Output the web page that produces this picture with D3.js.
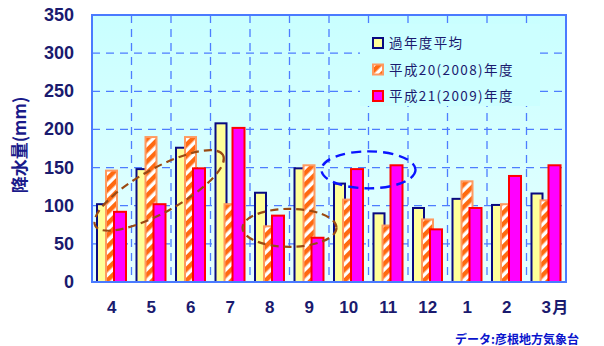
<!DOCTYPE html>
<meta charset="utf-8">
<style>
  body { margin: 0; background: #fff; }
  svg { display: block; }
  text { font-family: "Liberation Sans", Arial, sans-serif; }
  .jp { font-family: "Noto Sans CJK JP", sans-serif; }
</style>
<body>
<svg width="604" height="346"></svg>
<script src="https://d3js.org/d3.v7.min.js"></script>
<script>

var months = ["4", "5", "6", "7", "8", "9", "10", "11", "12", "1", "2", "3"];
var average = [102, 148, 176, 208, 117, 149, 129, 90, 97, 109, 101, 116];
var fy2008 = [146, 190, 190, 102, 73, 153, 108, 74, 82, 132, 102, 107];
var fy2009 = [92, 102, 149, 202, 87, 58, 148, 153, 69, 97, 139, 153];
var seriesNames = ["過年度平均", "平成20(2008)年度", "平成21(2009)年度"];
var yTicks = [0, 50, 100, 150, 200, 250, 300, 350];

var svg = d3.select("svg");
var plotLeft = 92, plotRight = 566, plotTop = 15, plotBottom = 282;

var x = d3.scaleBand().domain(months).range([plotLeft, plotRight]);
var y = d3.scaleLinear().domain([0, 350]).range([plotBottom, plotTop]);

var defs = svg.append("defs");
var grad = defs.append("linearGradient").attr("id", "bg")
    .attr("x1", 0).attr("y1", 0).attr("x2", 0).attr("y2", 1);
grad.append("stop").attr("offset", "0%").attr("stop-color", "#c9ffff");
grad.append("stop").attr("offset", "100%").attr("stop-color", "#e6ffff");

var pat = defs.append("pattern").attr("id", "stripe")
    .attr("patternUnits", "userSpaceOnUse")
    .attr("width", 8).attr("height", 8)
    .attr("patternTransform", "rotate(45)");
pat.append("rect").attr("width", 8).attr("height", 8).attr("fill", "#ffffff");
pat.append("rect").attr("width", 4.5).attr("height", 8).attr("fill", "#ff6a10");

// plot background
svg.append("rect")
    .attr("x", plotLeft).attr("y", plotTop)
    .attr("width", plotRight - plotLeft).attr("height", plotBottom - plotTop)
    .attr("fill", "url(#bg)");

// grid
var grid = svg.append("g")
    .attr("stroke", "#4d7dff").attr("stroke-width", 1.3)
    .attr("stroke-dasharray", "8,6");
grid.selectAll(".h").data(yTicks.filter(d => d > 0 && d < 350)).enter()
  .append("line")
    .attr("x1", plotLeft).attr("x2", plotRight)
    .attr("y1", d => y(d)).attr("y2", d => y(d));
grid.selectAll(".v").data(months.slice(1)).enter()
  .append("line")
    .attr("x1", d => x(d)).attr("x2", d => x(d))
    .attr("y1", plotTop).attr("y2", plotBottom);

// legend box hides the grid behind it
svg.append("rect")
    .attr("x", 360).attr("y", 24).attr("width", 180).attr("height", 82)
    .attr("fill", "#ccffff");

// bars
var series = [
  { values: average, off: 5, w: 11, fill: "#ffff99", stroke: "#0a0a80" },
  { values: fy2008, off: 14, w: 11, fill: "url(#stripe)", stroke: "#ff9a60" },
  { values: fy2009, off: 22, w: 12, fill: "#ff00ff", stroke: "#ff0000" }
];
series.forEach(function(s) {
  svg.append("g").selectAll("rect")
    .data(s.values).enter()
    .append("rect")
      .attr("x", (d, i) => x(months[i]) + s.off)
      .attr("y", d => y(d))
      .attr("width", s.w)
      .attr("height", d => y(0) - y(d))
      .attr("fill", s.fill)
      .attr("stroke", s.stroke)
      .attr("stroke-width", 2);
});

// frame
svg.append("rect")
    .attr("x", plotLeft).attr("y", plotTop)
    .attr("width", plotRight - plotLeft).attr("height", plotBottom - plotTop)
    .attr("fill", "none").attr("stroke", "#4a7aff").attr("stroke-width", 2);

// annotation ellipses
var bw = x.bandwidth();
var e1x = x("5") + bw * 0.7, e1y = y(120);
svg.append("ellipse")
    .attr("cx", e1x).attr("cy", e1y)
    .attr("rx", 73).attr("ry", 22)
    .attr("transform", "rotate(-29," + e1x + "," + e1y + ")")
    .attr("fill", "none").attr("stroke", "#9a4a12").attr("stroke-width", 2.2)
    .attr("stroke-dasharray", "8,5");
svg.append("ellipse")
    .attr("cx", x("9")).attr("cy", y(71))
    .attr("rx", 47).attr("ry", 19)
    .attr("fill", "none").attr("stroke", "#9a4a12").attr("stroke-width", 2.2)
    .attr("stroke-dasharray", "8,5");
svg.append("ellipse")
    .attr("cx", x("11")).attr("cy", y(147))
    .attr("rx", 47).attr("ry", 18.5)
    .attr("fill", "none").attr("stroke", "#0a14ff").attr("stroke-width", 2.4)
    .attr("stroke-dasharray", "10,6");

// legend
var legend = svg.append("g");
seriesNames.forEach(function(name, i) {
  var s = series[i];
  var ly = 43 + i * 26.5;
  legend.append("rect")
      .attr("x", 373).attr("y", ly - 5).attr("width", 10).attr("height", 10)
      .attr("fill", s.fill).attr("stroke", s.stroke).attr("stroke-width", 2);
  legend.append("text")
      .attr("class", "jp")
      .attr("x", 389).attr("y", ly + 5)
      .attr("font-size", 13.5).attr("letter-spacing", 1.4)
      .attr("fill", "#1a1a6e")
      .text(name);
});

// y tick labels
svg.append("g").selectAll("text")
  .data(yTicks).enter()
  .append("text")
    .attr("x", 74).attr("y", d => y(d) + 6)
    .attr("text-anchor", "end")
    .attr("font-size", 18).attr("font-weight", "bold")
    .attr("fill", "#1a1a6e")
    .text(d => d);

// x tick labels
svg.append("g").selectAll("text")
  .data(months).enter()
  .append("text")
    .attr("x", d => x(d) + bw / 2)
    .attr("y", 313)
    .attr("text-anchor", "middle")
    .attr("font-size", 17).attr("font-weight", "bold")
    .attr("fill", "#1a1a6e")
    .text(d => d);
svg.append("text")
    .attr("class", "jp")
    .attr("x", x("3") + bw / 2 + 6).attr("y", 313)
    .attr("font-size", 16).attr("font-weight", "bold")
    .attr("fill", "#1a1a6e")
    .text("月");

// y axis title
svg.append("text")
    .attr("class", "jp")
    .attr("transform", "translate(26,145) rotate(-90)")
    .attr("text-anchor", "middle")
    .attr("font-size", 17).attr("font-weight", "bold")
    .attr("fill", "#1a1a8a")
    .text("降水量(mm)");

// source
svg.append("text")
    .attr("class", "jp")
    .attr("x", 455).attr("y", 344)
    .attr("font-size", 12).attr("font-weight", "bold")
    .attr("fill", "#0a14cc")
    .text("データ:彦根地方気象台");

</script>
</body>
